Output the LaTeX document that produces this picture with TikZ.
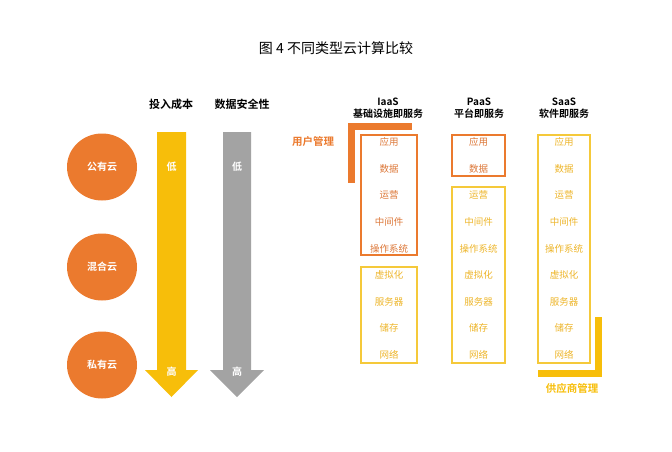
\documentclass[tikz,border=0pt]{standalone}
\usepackage{fontspec}
\usetikzlibrary{shapes.geometric}
\setmainfont{Noto Sans CJK SC}
\newfontfamily\cjkb{Noto Sans CJK SC Bold}
\definecolor{org}{HTML}{EB7A2E}
\definecolor{yel}{HTML}{F7BE0A}
\definecolor{ylin}{HTML}{F5C93A}
\definecolor{ytx}{HTML}{EDB52A}
\definecolor{otx}{HTML}{DC7738}
\definecolor{gry}{HTML}{A3A3A3}
\begin{document}
\begin{tikzpicture}[x=1pt,y=-1pt,
  circ/.style={ellipse,fill=org,minimum width=70pt,minimum height=67pt,text=white,font=\cjkb\fontsize{10}{10}\selectfont},
  hdr/.style={font=\cjkb\fontsize{11}{11}\selectfont},
  ohdr/.style={font=\cjkb\fontsize{10}{11.5}\selectfont,align=center,inner sep=0pt},
  row/.style={font=\fontsize{9.5}{10}\selectfont},
  orow/.style={row,text=otx},
  yrow/.style={row,text=ytx},
  obox/.style={draw=org,line width=1.2pt},
  ybox/.style={draw=ylin,line width=1.2pt},
  lbl/.style={text=white,font=\cjkb\fontsize{10}{10}\selectfont},
  mgl/.style={font=\cjkb\fontsize{10.5}{11}\selectfont}]
\useasboundingbox (0,0) rectangle (672,452);
\node[font=\fontsize{14}{14}\selectfont] (title) at (336,48) {图\ 4\ 不同类型云计算比较};
\node[hdr] (h1) at (171,104) {投入成本};
\node[hdr] (h2) at (242,104) {数据安全性};
\node[circ] (c1) at (102,167) {公有云};
\node[circ] (c2) at (102,267) {混合云};
\node[circ] (c3) at (102,365) {私有云};
\fill[yel] (157,132) -- (186,132) -- (186,370) -- (198,370) -- (171.5,397) -- (145,370) -- (157,370) -- cycle;
\fill[gry] (223,132) -- (251,132) -- (251,370) -- (264,370) -- (237,397) -- (210,370) -- (223,370) -- cycle;
\node[lbl] (l1) at (171.5,167) {低};
\node[lbl] (l2) at (171.5,372) {高};
\node[lbl] (l3) at (237,167) {低};
\node[lbl] (l4) at (237,372) {高};
\node[ohdr] (ia) at (388,108) {IaaS\\基础设施即服务};
\node[ohdr] (pa) at (479,108) {PaaS\\平台即服务};
\node[ohdr] (sa) at (564,108) {SaaS\\软件即服务};
\draw[obox] (361,135) rectangle (417,255);
\draw[ybox] (361,267) rectangle (417,363);
\draw[obox] (452,135) rectangle (505,176);
\draw[ybox] (452,187) rectangle (505,363);
\draw[ybox] (538,135) rectangle (590,363);
\foreach \t [count=\i] in {应用,数据,运营,中间件,操作系统,虚拟化,服务器,储存,网络}{
  \pgfmathsetmacro{\yy}{142+26.6*(\i-1)}
  \ifnum\i<6 \node[orow] (ir\i) at (389,\yy) {\t};\else \node[yrow] (ir\i) at (389,\yy) {\t};\fi
  \ifnum\i<3 \node[orow] (pr\i) at (478.5,\yy) {\t};\else \node[yrow] (pr\i) at (478.5,\yy) {\t};\fi
  \node[yrow] (sr\i) at (564,\yy) {\t};
}
\fill[org] (348,123) rectangle (412,130);
\fill[org] (348,123) rectangle (355,183);
\node[mgl,text=org] (um) at (313,142) {用户管理};
\fill[yel] (595,317) rectangle (602,377);
\fill[yel] (538,370) rectangle (602,377);
\node[mgl,text=yel] (vm) at (572,388) {供应商管理};
\end{tikzpicture}
\end{document}
